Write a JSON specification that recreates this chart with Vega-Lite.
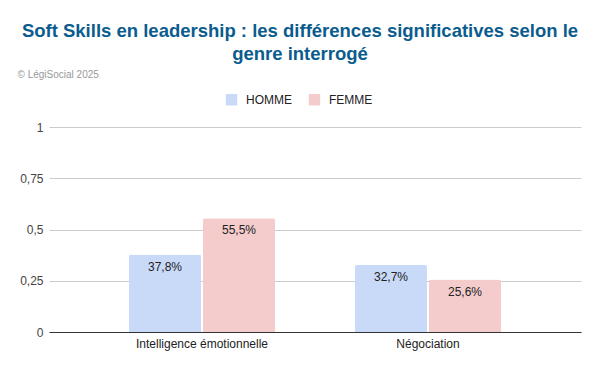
{
  "$schema": "https://vega.github.io/schema/vega-lite/v6.json",
  "width": 532,
  "height": 205,
  "autosize": "none",
  "padding": {"left": 49, "top": 127, "right": 19, "bottom": 39},
  "background": "white",
  "title": {
    "text": ["Soft Skills en leadership : les différences significatives selon le", "genre interrogé"],
    "anchor": "middle",
    "frame": "group",
    "font": "Liberation Sans",
    "fontSize": 18.5,
    "fontWeight": "bold",
    "color": "#0b5c8e",
    "lineHeight": 23,
    "dx": -15,
    "offset": 6
  },
  "data": {
    "values": [
      {"skill": "Intelligence émotionnelle", "genre": "HOMME", "value": 0.378, "label": "37,8%"},
      {"skill": "Intelligence émotionnelle", "genre": "FEMME", "value": 0.555, "label": "55,5%"},
      {"skill": "Négociation", "genre": "HOMME", "value": 0.327, "label": "32,7%"},
      {"skill": "Négociation", "genre": "FEMME", "value": 0.256, "label": "25,6%"}
    ]
  },
  "encoding": {
    "x": {
      "field": "skill",
      "type": "nominal",
      "sort": null,
      "scale": {"paddingInner": 0.354, "paddingOuter": 0.354},
      "axis": {
        "title": null,
        "labelAngle": 0,
        "labelFont": "Liberation Sans",
        "labelFontSize": 12,
        "labelColor": "#222222",
        "labelPadding": 6,
        "ticks": false,
        "domainColor": "#333333",
        "domainWidth": 1,
        "grid": false
      }
    },
    "xOffset": {
      "field": "genre",
      "sort": ["HOMME", "FEMME"],
      "scale": {"paddingInner": 0.027, "paddingOuter": 0}
    },
    "y": {
      "field": "value",
      "type": "quantitative",
      "scale": {"domain": [0, 1]},
      "axis": {
        "values": [0, 0.25, 0.5, 0.75, 1],
        "labelExpr": "replace(toString(datum.value), '.', ',')",
        "title": "© LégiSocial 2025",
        "titleAngle": 0,
        "titleAlign": "left",
        "titleBaseline": "alphabetic",
        "titleX": -32,
        "titleY": -50,
        "titleFont": "Liberation Sans",
        "titleFontSize": 10,
        "titleFontWeight": "normal",
        "titleColor": "#999999",
        "labelFont": "Liberation Sans",
        "labelFontSize": 12,
        "labelColor": "#444444",
        "labelPadding": 6,
        "ticks": false,
        "domain": false,
        "gridColor": "#cccccc",
        "grid": true
      }
    }
  },
  "layer": [
    {
      "mark": {"type": "bar", "cornerRadiusTopLeft": 2, "cornerRadiusTopRight": 2},
      "encoding": {
        "color": {
          "field": "genre",
          "type": "nominal",
          "sort": ["HOMME", "FEMME"],
          "scale": {"domain": ["HOMME", "FEMME"], "range": ["#c9daf8", "#f4cccc"]},
          "legend": {
            "title": null,
            "orient": "none",
            "direction": "horizontal",
            "legendX": 176,
            "legendY": -34,
            "symbolType": "square",
            "symbolSize": 130,
            "labelFont": "Liberation Sans",
            "labelFontSize": 12,
            "labelColor": "#222222",
            "columnPadding": 16,
            "labelOffset": 8
          }
        }
      }
    },
    {
      "mark": {"type": "text", "baseline": "top", "dy": 7, "font": "Liberation Sans", "fontSize": 12, "color": "#222222"},
      "encoding": {
        "text": {"field": "label"}
      }
    }
  ],
  "config": {
    "view": {"stroke": null}
  }
}
